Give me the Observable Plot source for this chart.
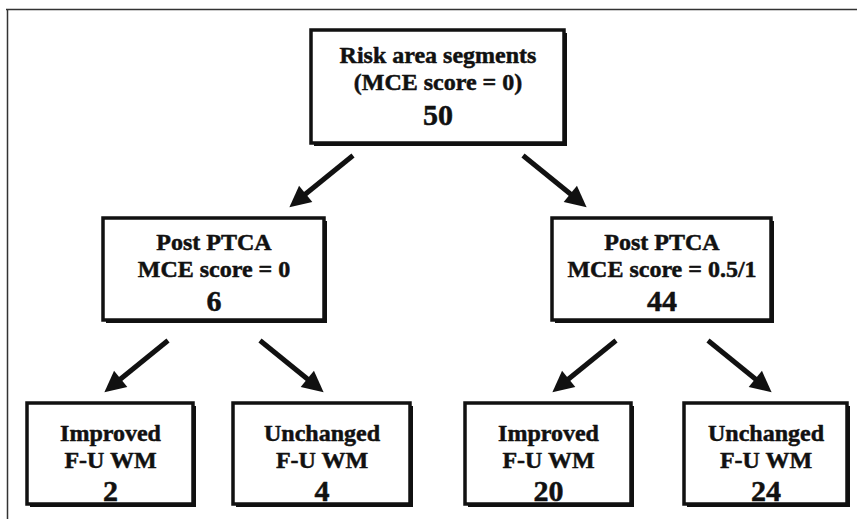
<!DOCTYPE html>
<html><head><meta charset="utf-8">
<script src="https://cdn.jsdelivr.net/npm/d3@7"></script>
<script src="https://cdn.jsdelivr.net/npm/@observablehq/plot@0.6"></script>
<style>
html,body{margin:0;padding:0;background:#fff;}
#chart svg{display:block;}
</style></head><body><div id="chart"></div>
<script>
// ---- data ----
const nodeIds     = ["root", "mid0", "mid1", "b00", "b01", "b10", "b11"];
const nodeParent  = [null, "root", "root", "mid0", "mid0", "mid1", "mid1"];
const nodeLevel   = [0, 1, 1, 2, 2, 2, 2];
const nodeLine1   = ["Risk area segments", "Post PTCA", "Post PTCA", "Improved", "Unchanged", "Improved", "Unchanged"];
const nodeLine2   = ["(MCE score = 0)", "MCE score = 0", "MCE score = 0.5/1", "F-U WM", "F-U WM", "F-U WM", "F-U WM"];
const nodeCounts  = [50, 6, 44, 2, 4, 20, 24];

// ---- layout (screen units) ----
const W = 857, H = 519;
const boxLeft   = [311, 103, 552, 27, 233, 465, 684];
const boxRight  = [564, 324, 771, 193, 410, 631, 847];
const levelTop    = [30, 218, 403];
const levelBottom = [143, 320, 504];
const lineOffsets = [[32, 59, 94], [31, 58, 92], [37, 64, 97]];
const spread = [85, 46];
const arrowVec = [64, 52];
const tipGap = 11, headLen = 11;

const nodes = nodeIds.map((id, i) => {
  const lv = nodeLevel[i];
  return {id, level: lv, parent: nodeParent[i],
    x1: boxLeft[i], x2: boxRight[i], y1: levelTop[lv], y2: levelBottom[lv],
    cx: (boxLeft[i] + boxRight[i]) / 2,
    line1: nodeLine1[i], line2: nodeLine2[i], count: String(nodeCounts[i])};
});
const byId = new Map(nodes.map(d => [d.id, d]));
const edges = nodes.filter(d => d.parent).map(c => {
  const p = byId.get(c.parent);
  const side = Math.sign(c.cx - p.cx);
  const tx = p.cx + side * spread[p.level] + side * arrowVec[0];
  const ty = c.y1 - tipGap;
  const sx = tx - side * arrowVec[0], sy = ty - arrowVec[1];
  const len = Math.hypot(tx - sx, ty - sy);
  return {sx, sy, ex: tx - (tx - sx) / len * headLen, ey: ty - (ty - sy) / len * headLen};
});

function headMarker(color) {
  const m = d3.create("svg:marker")
    .attr("viewBox", "0 0 10 10").attr("refX", 5).attr("refY", 5)
    .attr("markerWidth", 23).attr("markerHeight", 21)
    .attr("markerUnits", "userSpaceOnUse").attr("orient", "auto")
    .attr("overflow", "visible");
  m.append("path").attr("d", "M0,0L10,5L0,10z")
    .attr("fill", color).attr("stroke", "none");
  return m.node();
}

const font = "'Liberation Serif', 'Times New Roman', serif";
const ink = "#111";
const textStyle = {lineAnchor: "bottom", fontWeight: "bold", fill: ink, stroke: ink,
  strokeWidth: 0.5, fontFamily: font};

const chart = Plot.plot({
  width: W, height: H, margin: 0,
  x: {domain: [0, W], range: [0, W], axis: null},
  y: {domain: [0, H], range: [0, H], axis: null},
  style: {background: "#fff", fontFamily: font},
  marks: [
    Plot.ruleY([9], {x1: 6, x2: W, stroke: "#333", strokeWidth: 1.5}),
    Plot.ruleX([7], {y1: 9, y2: H, stroke: "#333", strokeWidth: 1.5}),
    // drop shadows
    Plot.rect(nodes, {x1: d => d.x1 + 3, x2: d => d.x2 + 3, y1: d => d.y1 + 3, y2: d => d.y2 + 3, fill: ink}),
    Plot.rect(nodes, {x1: "x1", x2: "x2", y1: "y1", y2: "y2", fill: "white", stroke: ink, strokeWidth: 3.5}),
    Plot.text(nodes, {x: "cx", y: d => d.y1 + lineOffsets[d.level][0], text: "line1", fontSize: 24, ...textStyle}),
    Plot.text(nodes, {x: "cx", y: d => d.y1 + lineOffsets[d.level][1], text: "line2", fontSize: 24, ...textStyle}),
    Plot.text(nodes, {x: "cx", y: d => d.y1 + lineOffsets[d.level][2], text: "count", fontSize: 30, ...textStyle}),
    Plot.link(edges, {x1: "sx", y1: "sy", x2: "ex", y2: "ey", stroke: ink, strokeWidth: 5,
      markerEnd: headMarker})
  ]
});
document.getElementById("chart").appendChild(chart);
</script>
</body></html>
